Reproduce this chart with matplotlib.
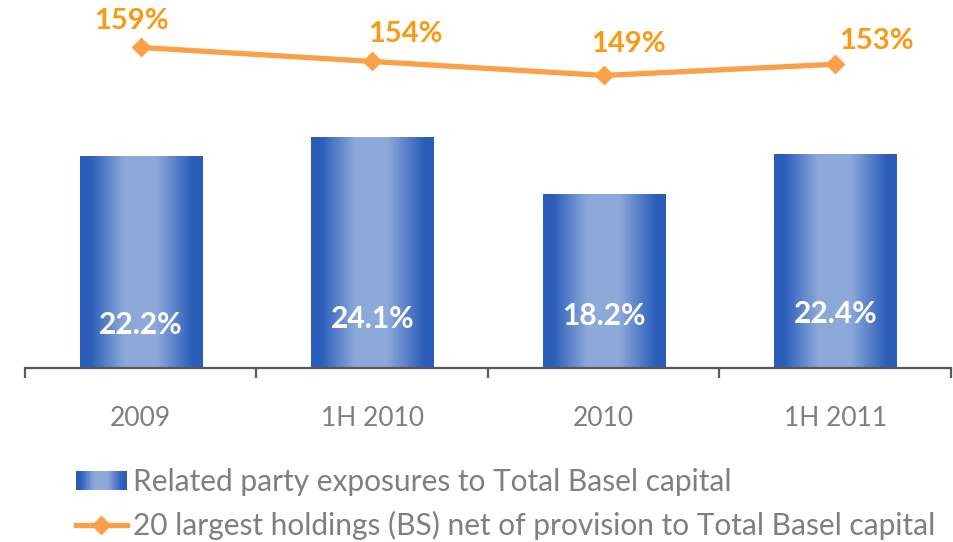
import numpy as np
import matplotlib.pyplot as plt
from matplotlib.colors import LinearSegmentedColormap
from matplotlib.legend_handler import HandlerBase
from matplotlib.patches import Rectangle
from matplotlib.lines import Line2D

plt.rcParams['font.family'] = ['Lato', 'DejaVu Sans']

# Data
periods = ['2009', '1H 2010', '2010', '1H 2011']
related_party = [22.2, 24.1, 18.2, 22.4]      # % of Total Basel capital (bars)
top20_holdings = [159, 154, 149, 153]          # % of Total Basel capital (line)

bar_label = 'Related party exposures to Total Basel capital'
line_label = '20 largest holdings (BS) net of provision to Total Basel capital'

# Colours
dark_blue = '#2A5DB9'
light_blue = '#8DA9DA'
orange_line = '#FBA045'
orange_text = '#F99A14'
grey_text = '#7F7F7F'

grad = LinearSegmentedColormap.from_list(
    'bargrad',
    [(0.0, dark_blue), (0.08, dark_blue), (0.36, light_blue),
     (0.62, light_blue), (0.92, dark_blue), (1.0, dark_blue)])

fig = plt.figure(figsize=(9.54, 5.42), dpi=100)
ax = fig.add_axes([25 / 954, 1 - 367.5 / 542, 926 / 954, 357 / 542])
x_pos = np.arange(len(periods))

bars = ax.bar(x_pos, related_party, 0.527, color='none', edgecolor='none', zorder=2)
strip = np.linspace(0, 1, 256).reshape(1, -1)
for b in bars:
    x0, y0 = b.get_x(), b.get_y()
    im = ax.imshow(strip, cmap=grad, aspect='auto', zorder=2,
                   extent=[x0, x0 + b.get_width(), y0, y0 + b.get_height()])
    im.set_clip_path(b)

ax.set_xlim(-0.5, len(periods) - 0.5)
ax.set_ylim(0, 37.4)

# bar value labels (white, bold)
label_heights = [4.5, 5.1, 5.4, 5.65]
for xp, v, h in zip(x_pos, related_party, label_heights):
    ax.text(xp, h, f'{v:.1f}%', ha='center', va='center', color='white',
            fontsize=21.5, fontweight='bold', zorder=4)

# axes styling
for s in ['top', 'right', 'left']:
    ax.spines[s].set_visible(False)
ax.spines['bottom'].set_color('#595959')
ax.spines['bottom'].set_linewidth(1.6)
ax.set_yticks([])
ax.set_xticks(np.arange(-0.5, len(periods)), labels=[''] * (len(periods) + 1))
ax.tick_params(axis='x', which='major', length=7, width=1.6, color='#595959', direction='out')
ax.set_xticks(x_pos, labels=periods, minor=True)
ax.tick_params(axis='x', which='minor', length=0, pad=28, labelsize=19, labelcolor=grey_text)

# line on secondary axis
ax2 = ax.twinx()
ax2.set_ylim(44.7, 172.2)
ax2.axis('off')
ax2.plot(x_pos, top20_holdings, color=orange_line, lw=3.8, marker='D',
         markersize=9.5, markerfacecolor=orange_line, markeredgecolor=orange_line,
         solid_capstyle='butt', zorder=3)
line_offsets = [(-7, 19), (24, 20), (18, 23), (30, 17)]  # points
for xp, v, off in zip(x_pos, top20_holdings, line_offsets):
    ax2.annotate(f'{v}%', (xp, v), xytext=off, textcoords='offset points',
                 ha='center', va='center', color=orange_text, fontsize=21,
                 fontweight='bold')


# gradient patch for the legend
class GradientHandler(HandlerBase):
    def create_artists(self, legend, orig_handle, xdescent, ydescent,
                       width, height, fontsize, trans):
        n = 40
        h = height * 0.95
        arts = []
        for i in range(n):
            c = grad((i + 0.5) / n)
            r = Rectangle((-xdescent + width * i / n, -ydescent + (height - h) / 2),
                          width / n + 0.3, h, facecolor=c, edgecolor='none',
                          transform=trans)
            arts.append(r)
        return arts


bar_handle = Rectangle((0, 0), 1, 1)
line_handle = Line2D([], [], color=orange_line, lw=3.8, marker='D', markersize=9.5)
fig.legend([bar_handle, line_handle], [bar_label, line_label],
           handler_map={Rectangle: GradientHandler()},
           loc='upper left', bbox_to_anchor=(76 / 954, 1 - 468 / 542),
           frameon=False, fontsize=21.5, labelcolor=grey_text,
           handlelength=1.7, handletextpad=0.2, labelspacing=0.5,
           borderpad=0, borderaxespad=0)

fig.savefig('out.png', dpi=100)
